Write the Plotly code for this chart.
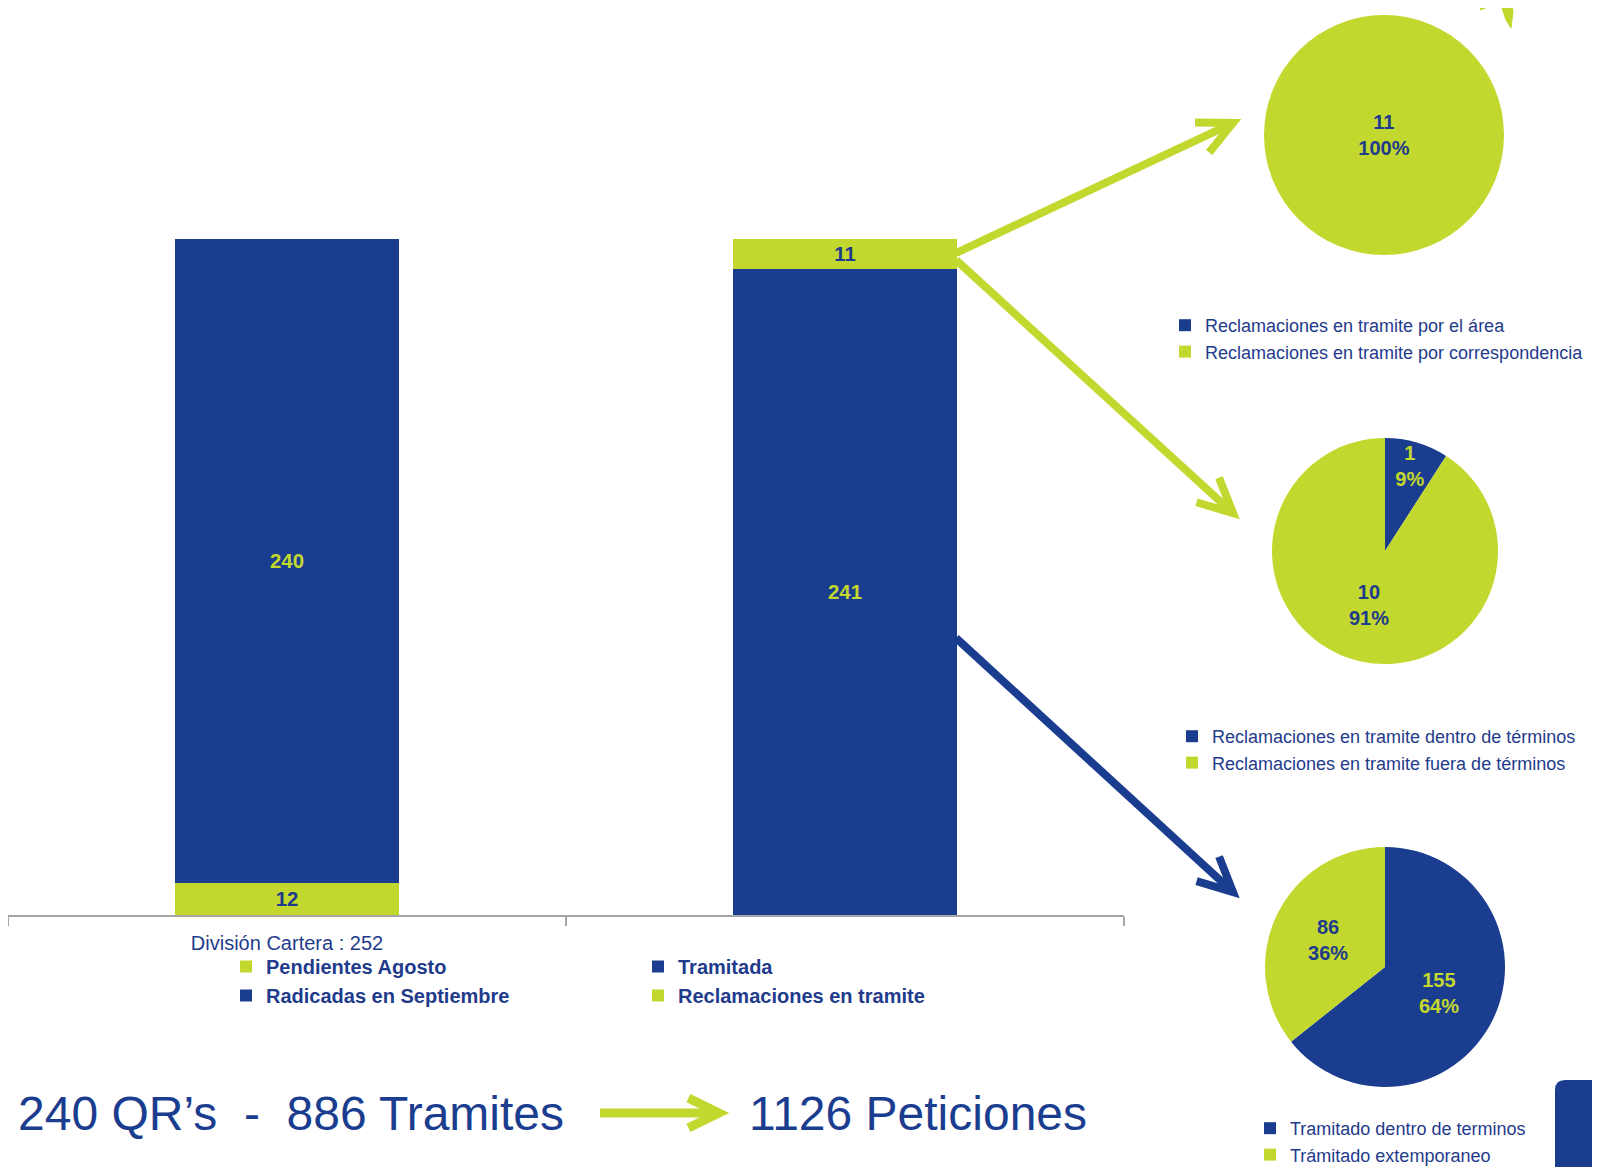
import math
import plotly.graph_objects as go

BLUE = '#1b3d8f'
GREEN = '#c3d82e'
TEXT = '#1f3b8c'
GREY = '#a6a6a6'
NARROW = 'Liberation Sans Narrow, Liberation Sans, Arial, sans-serif'
W, H = 1600, 1167
OFF = 8  # page body margin shifts the figure

# bar chart data
categories = ['División Cartera : 252', ' ']
pendientes_agosto = [12, None]
radicadas_septiembre = [240, None]
tramitada = [None, 241]
reclamaciones_tramite = [None, 11]

# pie data
pie1_labels = ['Reclamaciones en tramite por el área', 'Reclamaciones en tramite por correspondencia']
pie1_values = [0, 11]
pie2_labels = ['Reclamaciones en tramite dentro de términos', 'Reclamaciones en tramite fuera de términos']
pie2_values = [1, 10]
pie3_labels = ['Tramitado dentro de terminos', 'Trámitado extemporaneo']
pie3_values = [155, 86]

summary_left = '240 QR’s  -  886 Tramites'
summary_right = '1126 Peticiones'


def px(x):
    return (x - OFF) / W


def py(y):
    return 1 - (y - OFF) / H


def arrow(x0, y0, x1, y1, color, width, head, spread=26):
    # straight thick line with an open chevron head, pixel coords
    dx, dy = x1 - x0, y1 - y0
    n = math.hypot(dx, dy)
    ux, uy = dx / n, dy / n
    shapes = [dict(type='line', xref='paper', yref='paper',
                   x0=px(x0), y0=py(y0), x1=px(x1 - ux * width), y1=py(y1 - uy * width),
                   line=dict(color=color, width=width))]
    pts = []
    for a in (math.radians(spread), -math.radians(spread)):
        rx = ux * math.cos(a) - uy * math.sin(a)
        ry = ux * math.sin(a) + uy * math.cos(a)
        pts.append((x1 - rx * head, y1 - ry * head))
    path = 'M {} {} L {} {} L {} {}'.format(px(pts[0][0]), py(pts[0][1]), px(x1), py(y1),
                                            px(pts[1][0]), py(pts[1][1]))
    shapes.append(dict(type='path', xref='paper', yref='paper', path=path,
                       line=dict(color=color, width=width)))
    return shapes


fig = go.Figure()

bar_font = dict(family=NARROW, size=26, weight='bold')
fig.add_trace(go.Bar(x=categories, y=pendientes_agosto, name='Pendientes Agosto',
                     marker=dict(color=GREEN, line=dict(width=0)), text=pendientes_agosto,
                     textposition='inside', insidetextanchor='middle', textangle=0,
                     textfont=dict(color=TEXT, **bar_font), legend='legend'))
fig.add_trace(go.Bar(x=categories, y=radicadas_septiembre, name='Radicadas en Septiembre',
                     marker=dict(color=BLUE, line=dict(width=0)), text=radicadas_septiembre,
                     textposition='inside', insidetextanchor='middle', textangle=0,
                     textfont=dict(color=GREEN, **bar_font), legend='legend'))
fig.add_trace(go.Bar(x=categories, y=tramitada, name='Tramitada',
                     marker=dict(color=BLUE, line=dict(width=0)), text=tramitada,
                     textposition='inside', insidetextanchor='middle', textangle=0,
                     textfont=dict(color=GREEN, **bar_font), legend='legend2'))
fig.add_trace(go.Bar(x=categories, y=reclamaciones_tramite, name='Reclamaciones en tramite',
                     marker=dict(color=GREEN, line=dict(width=0)), text=reclamaciones_tramite,
                     textposition='inside', insidetextanchor='middle', textangle=0,
                     textfont=dict(color=TEXT, **bar_font), legend='legend2'))

pie_font = dict(family=NARROW, size=20, weight='bold')
label_tpl = '%{value}<br>%{percent:.0%}'
pies = [
    (pie1_labels, pie1_values, [1264, 1504], [15, 255], 'legend3'),
    (pie2_labels, pie2_values, [1272, 1498], [438, 664], 'legend4'),
    (pie3_labels, pie3_values, [1265, 1505], [847, 1087], 'legend5'),
]
for labels, values, dx, dy, leg in pies:
    fig.add_trace(go.Pie(labels=labels, values=values, sort=False, direction='clockwise',
                         marker=dict(colors=[BLUE, GREEN], line=dict(width=0)),
                         texttemplate=[label_tpl if v else '' for v in values],
                         textposition='inside', insidetextorientation='horizontal',
                         textfont=dict(color=[GREEN, TEXT], **pie_font),
                         domain=dict(x=[px(dx[0]), px(dx[1])], y=[py(dy[1]), py(dy[0])]),
                         legend=leg, showlegend=True))

shapes = []
shapes += arrow(956, 253, 1233, 123, GREEN, 8, 38)
shapes += arrow(956, 260, 1233, 513, GREEN, 8, 38)
shapes += arrow(956, 638, 1233, 892, BLUE, 8, 38)
shapes += arrow(600, 1113, 719, 1113, GREEN, 9, 34)
# slide decorations
shapes.append(dict(type='path', xref='paper', yref='paper', fillcolor=BLUE, line=dict(width=0),
                   path='M {} {} L {} {} Q {} {} {} {} L {} {} L {} {} Z'.format(
                       px(1555), py(1180), px(1555), py(1090), px(1555), py(1080), px(1565), py(1080),
                       px(1610), py(1080), px(1610), py(1180))))
shapes.append(dict(type='path', xref='paper', yref='paper', fillcolor=GREEN, line=dict(color=GREEN, width=1),
                   path='M {} {} L {} {} L {} {} L {} {} L {} {} L {} {} Z'.format(
                       px(1498), py(0), px(1511), py(0), px(1513), py(12), px(1511), py(28),
                       px(1506), py(20), px(1502), py(8))))
shapes.append(dict(type='line', xref='paper', yref='paper', x0=px(1480), y0=py(9), x1=px(1497), y1=py(2),
                   line=dict(color=GREEN, width=3)))

legend_common = dict(orientation='v', traceorder='normal', bgcolor='rgba(0,0,0,0)',
                     xanchor='left', yanchor='top', itemclick=False)
bar_leg_font = dict(family=NARROW, size=20, color=TEXT, weight='bold')
pie_leg_font = dict(family=NARROW, size=18, color=TEXT)

fig.update_layout(
    width=W, height=H,
    margin=dict(l=0, r=0, t=0, b=0, autoexpand=False),
    paper_bgcolor='white', plot_bgcolor='white',
    barmode='stack', bargap=0.6,
    uniformtext=dict(minsize=20, mode='show'),
    xaxis=dict(domain=[px(8), px(1124)], type='category', tickson='boundaries',
               ticks='outside', ticklen=9, tickcolor=GREY, tickwidth=2,
               showline=True, linecolor=GREY, linewidth=2, showgrid=False,
               ticklabelstandoff=9, automargin=False,
               tickfont=dict(family=NARROW, size=20, color=TEXT)),
    yaxis=dict(domain=[py(915), py(239)], range=[0, 252], visible=False),
    legend=dict(x=px(226), y=py(947), font=bar_leg_font, **legend_common),
    legend2=dict(x=px(638), y=py(947), font=bar_leg_font, **legend_common),
    legend3=dict(x=px(1165), y=py(307), font=pie_leg_font, **legend_common),
    legend4=dict(x=px(1172), y=py(718), font=pie_leg_font, **legend_common),
    legend5=dict(x=px(1250), y=py(1110), font=pie_leg_font, **legend_common),
    shapes=shapes,
    annotations=[
        dict(text=summary_left, xref='paper', yref='paper', x=px(16), y=py(1113),
             xanchor='left', yanchor='middle', showarrow=False,
             font=dict(family=NARROW, size=48, color=BLUE)),
        dict(text=summary_right, xref='paper', yref='paper', x=px(747), y=py(1113),
             xanchor='left', yanchor='middle', showarrow=False,
             font=dict(family=NARROW, size=48, color=BLUE)),
    ],
)

fig.write_html("out.html")
